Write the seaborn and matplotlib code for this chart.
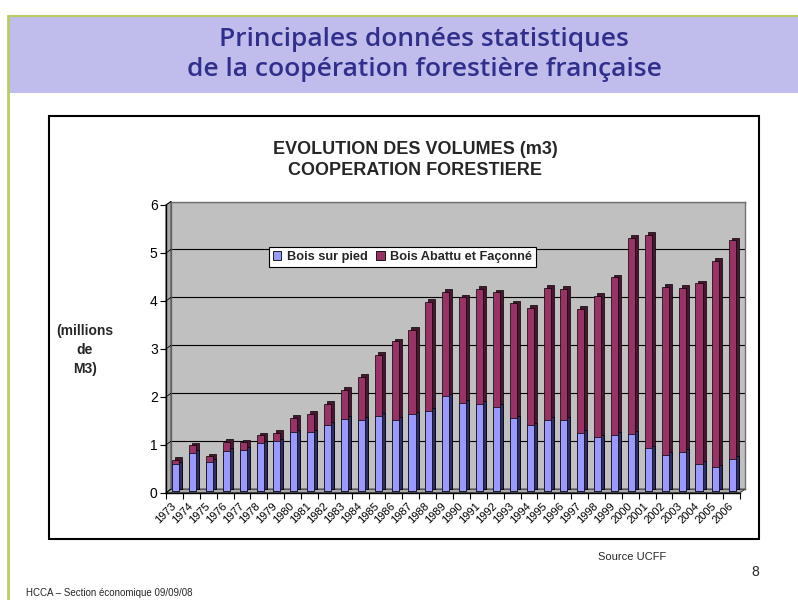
import numpy as np
import pandas as pd
import matplotlib
matplotlib.use("Agg")
import matplotlib.pyplot as plt
import seaborn as sns
from matplotlib.patches import Rectangle, Polygon, Patch
from matplotlib.lines import Line2D
from matplotlib.transforms import ScaledTranslation

# données (millions de m3)
annees = ["1973", "1974", "1975", "1976", "1977", "1978", "1979", "1980", "1981",
          "1982", "1983", "1984", "1985", "1986", "1987", "1988", "1989", "1990",
          "1991", "1992", "1993", "1994", "1995", "1996", "1997", "1998", "1999",
          "2000", "2001", "2002", "2003", "2004", "2005", "2006"]
bois_sur_pied = [0.56, 0.80, 0.61, 0.84, 0.86, 1.00, 1.04, 1.23, 1.23, 1.39, 1.51, 1.49,
                 1.57, 1.49, 1.61, 1.68, 1.98, 1.84, 1.82, 1.76, 1.52, 1.38, 1.49, 1.49,
                 1.22, 1.13, 1.18, 1.20, 0.90, 0.76, 0.82, 0.57, 0.50, 0.68]
bois_abattu = [0.10, 0.16, 0.12, 0.19, 0.16, 0.17, 0.18, 0.30, 0.39, 0.43, 0.61, 0.90,
               1.28, 1.64, 1.76, 2.27, 2.18, 2.21, 2.40, 2.39, 2.40, 2.45, 2.75, 2.73,
               2.59, 2.95, 3.28, 4.09, 4.45, 3.50, 3.42, 3.77, 4.31, 4.55]
y_ticks = [0, 1, 2, 3, 4, 5, 6]

df = pd.DataFrame({"annee": annees, "pied": bois_sur_pied})
df["total"] = df["pied"] + np.array(bois_abattu)

sns.set_style("white")
plt.rcParams["font.family"] = ["Liberation Sans", "DejaVu Sans"]

W, H = 798, 600
fig = plt.figure(figsize=(W / 100, H / 100), dpi=100)
dpi = fig.dpi


def fx(px):
    return px / W


def fy(py):
    return 1 - py / H


# bandeau du titre
fig.add_artist(Rectangle((fx(8), fy(93)), 1 - fx(8), fy(16) - fy(93), transform=fig.transFigure,
                         facecolor="#C0BCEC", edgecolor="none", zorder=-2))
fig.add_artist(Line2D([fx(8), fx(8)], [0, fy(16)], color="#B8CC60", lw=2, zorder=-1))
fig.add_artist(Line2D([fx(8), 1], [fy(16), fy(16)], color="#B8CC60", lw=1.5, zorder=-1))
fig.text(fx(424), fy(40), "Principales données statistiques", ha="center", va="center",
         fontsize=19, fontweight=600, color="#30308C", family="Open Sans")
fig.text(fx(424), fy(70), "de la coopération forestière française", ha="center", va="center",
         fontsize=19, fontweight=600, color="#30308C", family="Open Sans")

# cadre du graphique
fig.add_artist(Rectangle((fx(49), fy(539)), fx(759) - fx(49), fy(116) - fy(539),
                         transform=fig.transFigure, fill=False, edgecolor="black", lw=1.5, zorder=4))

# géométrie des axes (plan avant) et profondeur 3D
L, R, T, B = 166, 740, 205, 492.7
ddx, ddy = 5, 3.5

# paroi du fond
ax_back = fig.add_axes([fx(L + ddx), fy(B - ddy), fx(R) - fx(L), fy(T) - fy(B)], zorder=0)
ax_back.set_facecolor("#C0C0C0")
ax_back.set_xlim(0, 1)
ax_back.set_ylim(0, 6)
ax_back.set_yticks(y_ticks)
ax_back.set_xticks([])
ax_back.grid(axis="y", color="black", lw=0.8)
ax_back.tick_params(left=False, bottom=False, labelleft=False, labelbottom=False)
for s in ax_back.spines.values():
    s.set_color("#707070")
    s.set_linewidth(1)

# paroi gauche et sol
fig.add_artist(Polygon([(fx(L), fy(B)), (fx(L + ddx), fy(B - ddy)), (fx(L + ddx), fy(T - ddy)),
                        (fx(L), fy(T))], closed=True, transform=fig.transFigure,
                       facecolor="#A8A8A8", edgecolor="#505050", lw=0.8, zorder=0.5))
fig.add_artist(Polygon([(fx(L), fy(B)), (fx(R), fy(B)), (fx(R + ddx), fy(B - ddy)),
                        (fx(L + ddx), fy(B - ddy))], closed=True, transform=fig.transFigure,
                       facecolor="#A8A8A8", edgecolor="#404040", lw=0.8, zorder=0.5))

# plan avant : barres empilées
ax = fig.add_axes([fx(L), fy(B), fx(R) - fx(L), fy(T) - fy(B)], zorder=2)
ax.patch.set_visible(False)

couches = [("total", "#4A1530", 4.2, 4.0),
           ("pied", "#2E2E66", 4.2, 4.0),
           ("total", "#993366", 1.2, 1.5),
           ("pied", "#9999FF", 1.2, 1.5)]
for col, color, dx, dy in couches:
    n0 = len(ax.patches)
    sns.barplot(data=df, x="annee", y=col, color=color, saturation=1, width=0.42,
                edgecolor="black", linewidth=0.5, errorbar=None, ax=ax)
    off = ScaledTranslation(dx / dpi, dy / dpi, fig.dpi_scale_trans)
    for p in ax.patches[n0:]:
        p.set_transform(ax.transData + off)

ax.set_xlim(-0.5, len(annees) - 0.5)
ax.set_ylim(0, 6)
ax.set_xlabel("")
ax.set_ylabel("")
ax.set_yticks(y_ticks)
ax.set_xticks(np.arange(len(annees)))
ax.set_xticklabels(annees)
ax.set_xticks(np.arange(len(annees) + 1) - 0.5, minor=True)
ax.tick_params(axis="y", left=True, direction="out", length=4, width=0.8, color="black",
               labelsize=10, labelcolor="black", pad=2)
ax.tick_params(axis="x", which="major", bottom=False, labelsize=8, labelcolor="black", pad=5)
ax.tick_params(axis="x", which="minor", bottom=True, direction="out", length=4, width=0.8,
               color="black")
plt.setp(ax.get_xticklabels(), rotation=45, ha="right", va="center", rotation_mode="anchor")
for side in ["top", "right"]:
    ax.spines[side].set_visible(False)
for side in ["left", "bottom"]:
    ax.spines[side].set_color("black")
    ax.spines[side].set_linewidth(1)

# petites diagonales de la paroi gauche
to_fig = ax.transData + fig.transFigure.inverted()
for v in y_ticks:
    x0, y0 = to_fig.transform((-0.5, v))
    fig.add_artist(Line2D([x0, x0 + ddx / W], [y0, y0 + ddy / H], color="black", lw=0.6, zorder=0.6))

# légende
handles = [Patch(facecolor="#9999FF", edgecolor="black", lw=0.6, label="Bois sur pied"),
           Patch(facecolor="#993366", edgecolor="black", lw=0.6, label="Bois Abattu et Façonné")]
leg = fig.legend(handles=handles, loc="center", bbox_to_anchor=(fx(402.5), fy(257)), ncol=2,
                 frameon=True, fancybox=False, edgecolor="black", framealpha=1,
                 prop=dict(weight="bold", size=9.2), handlelength=0.7, handleheight=0.7,
                 handletextpad=0.4, columnspacing=0.7, borderpad=0.3)
leg.set_zorder(5)
leg.get_frame().set_linewidth(0.8)

# titres et textes
fig.text(fx(415), fy(160), "EVOLUTION DES VOLUMES (m3)\nCOOPERATION FORESTIERE", ha="center",
         va="center", fontsize=13, fontweight="bold", linespacing=1.3)
fig.text(fx(85), fy(350), "(millions\nde\nM3)", ha="center", va="center", fontsize=10,
         fontweight="bold", linespacing=1.5)
fig.text(fx(632), fy(557), "Source UCFF", ha="center", va="center", fontsize=8)
fig.text(fx(755), fy(572), "8", ha="center", va="center", fontsize=10)
fig.text(fx(26), fy(593), "HCCA – Section économique 09/09/08", ha="left", va="center", fontsize=7)

fig.savefig("out.png", dpi=100)
